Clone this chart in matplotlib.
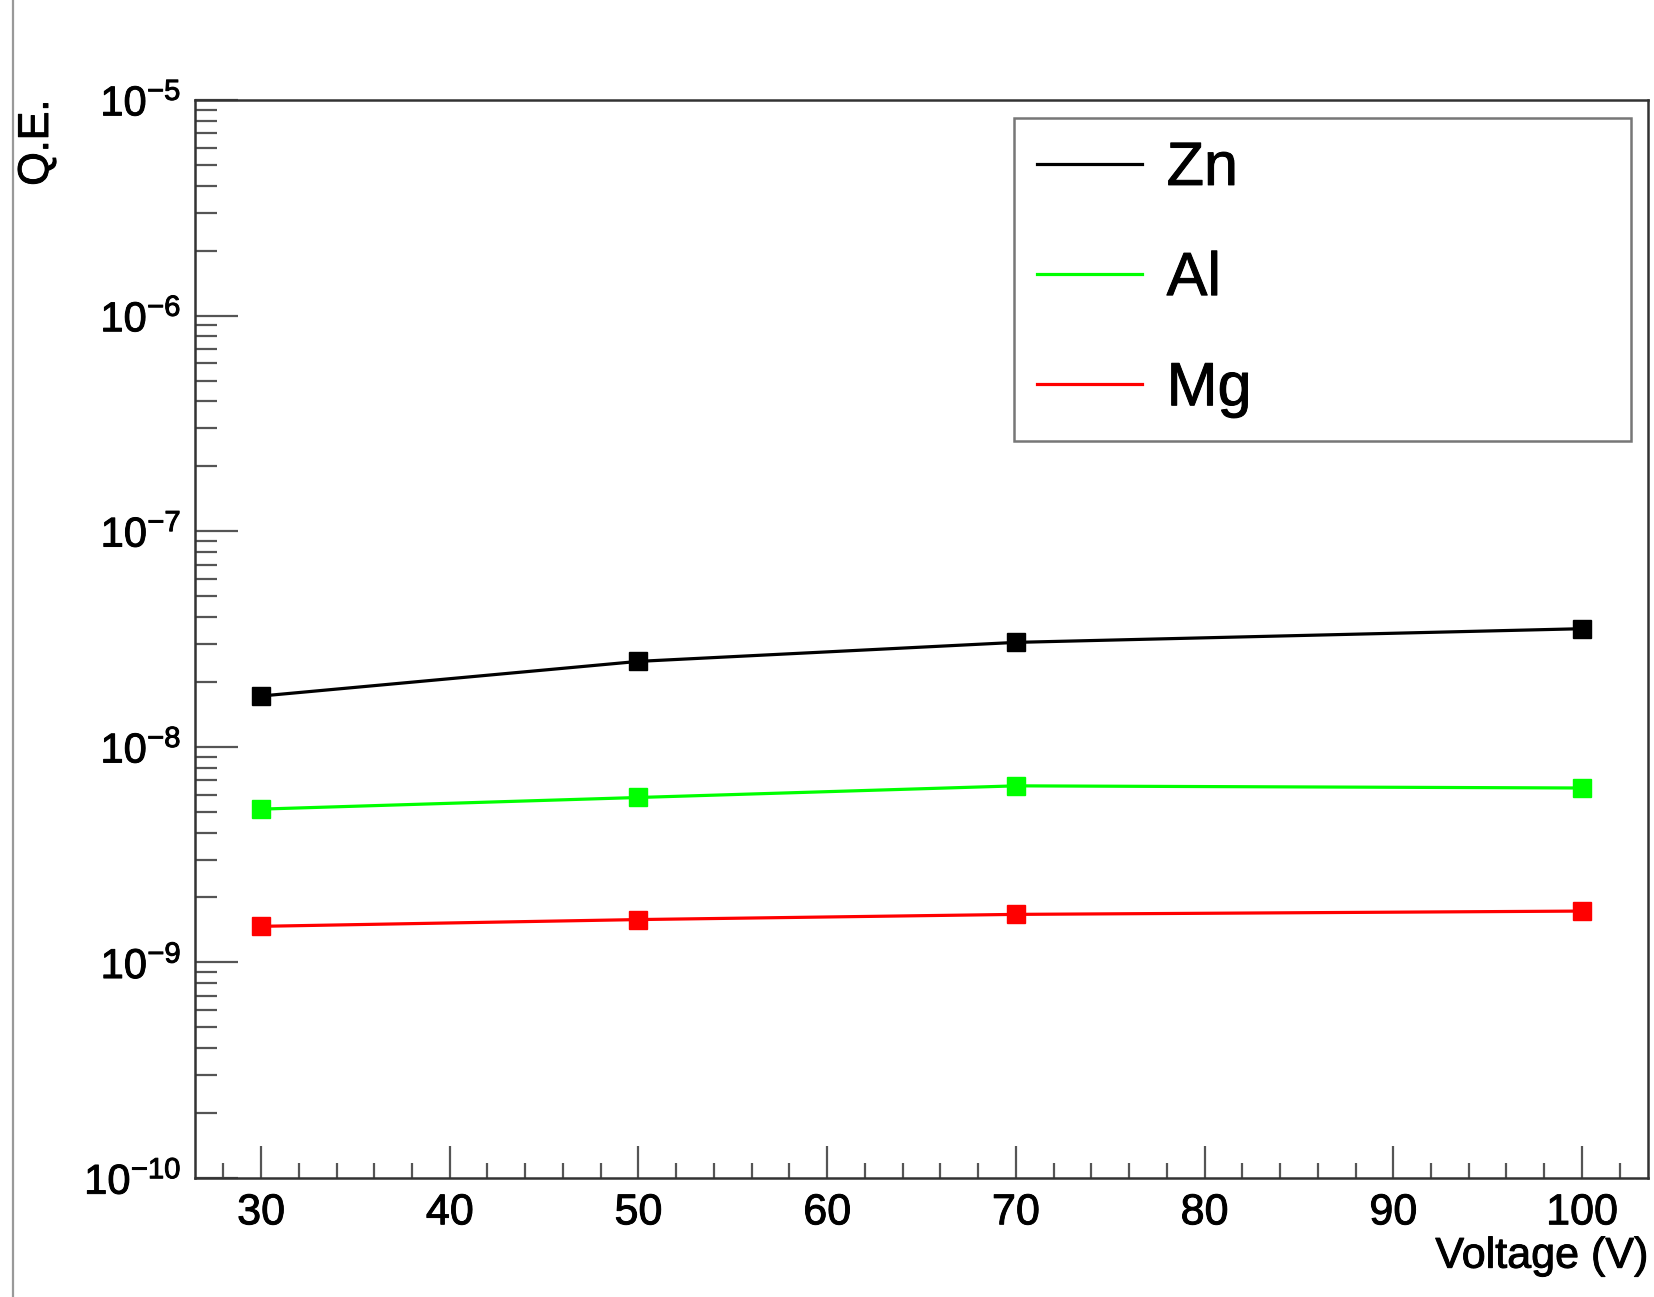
"""
Q.E. vs voltage for Zn, Al, Mg cathodes (ROOT-style look)
"""

import matplotlib.pyplot as plt
import matplotlib.patheffects as pe
from matplotlib.lines import Line2D
from matplotlib.ticker import LogLocator, MultipleLocator, LogFormatterSciNotation

plt.rcParams['font.family'] = ['Liberation Sans', 'DejaVu Sans']
plt.rcParams['mathtext.fontset'] = 'custom'
plt.rcParams['mathtext.rm'] = 'Liberation Sans'
plt.rcParams['mathtext.it'] = 'Liberation Sans:italic'
plt.rcParams['mathtext.bf'] = 'Liberation Sans:bold'

# data
voltage = [30, 50, 70, 100]
qe_zn = [1.72e-8, 2.49e-8, 3.05e-8, 3.53e-8]
qe_al = [5.14e-9, 5.82e-9, 6.59e-9, 6.44e-9]
qe_mg = [1.47e-9, 1.58e-9, 1.67e-9, 1.73e-9]
names = ['Zn', 'Al', 'Mg']
colors = ['#000000', '#00ff00', '#ff0000']

# slightly heavier text, like the original Helvetica rendering
BOLDEN = [pe.withStroke(linewidth=0.7, foreground='black')]

W, H = 1654, 1297
fig = plt.figure(figsize=(W / 100, H / 100), dpi=100)
fig.patch.set_facecolor('white')

# gray window border line on the far left
fig.add_artist(Line2D([13 / W, 13 / W], [0, 1], color='#999999', lw=1.6,
                      transform=fig.transFigure))

left, right, top, bottom = 195, 1648, 100, 1178
ax = fig.add_axes([left / W, 1 - bottom / H, (right - left) / W, (bottom - top) / H])

series = [qe_zn, qe_al, qe_mg]
for vals, name, c in zip(series, names, colors):
    ax.plot(voltage, vals, color=c, lw=2.3, marker='s', markersize=12.5,
            markeredgecolor=c, markerfacecolor=c, label=name)

ax.set_yscale('log')
ax.set_xlim(26.5, 103.5)
ax.set_ylim(1e-10, 1e-5)

ax.xaxis.set_major_locator(MultipleLocator(10))
ax.xaxis.set_minor_locator(MultipleLocator(2))
ax.yaxis.set_major_locator(LogLocator(base=10, numticks=20))
ax.yaxis.set_minor_locator(LogLocator(base=10, subs=range(2, 10), numticks=20))
ax.yaxis.set_major_formatter(LogFormatterSciNotation())

tick_col = '#555555'
ax.tick_params(axis='both', which='both', direction='in', top=False, right=False,
               color=tick_col, width=1.6, labelcolor='black')
ax.tick_params(axis='x', which='major', length=23, pad=11, labelsize=31)
ax.tick_params(axis='x', which='minor', length=11)
ax.tick_params(axis='y', which='major', length=31, pad=10, labelsize=30)
ax.tick_params(axis='y', which='minor', length=16)

for lab in ax.get_xticklabels() + ax.get_yticklabels():
    lab.set_path_effects(BOLDEN)

for sp in ax.spines.values():
    sp.set_color('#333333')
    sp.set_linewidth(1.8)

# axis titles placed like ROOT (right / top aligned)
ax.text(1.0, -0.073, 'Voltage (V)', transform=ax.transAxes, ha='right', va='center',
        fontsize=31, path_effects=BOLDEN)
fig.text(37 / W, 1 - top / H, 'Q.E.', rotation=90, ha='center', va='top', fontsize=31,
         path_effects=BOLDEN)

handles = [Line2D([], [], color=c, lw=2.3) for c in colors]
leg = ax.legend(handles, names, loc='upper left',
                bbox_to_anchor=(0.564, 0.684, 0.424, 0.299), mode='expand',
                fontsize=44, frameon=True, fancybox=False, borderpad=0.37,
                labelspacing=0.87, handlelength=1.72, handletextpad=0.4,
                borderaxespad=0)
leg.get_frame().set_edgecolor('#555555')
leg.get_frame().set_linewidth(1.8)
for t in leg.get_texts():
    t.set_path_effects(BOLDEN)

plt.savefig('out.png', dpi=100, facecolor='white')
plt.close()
